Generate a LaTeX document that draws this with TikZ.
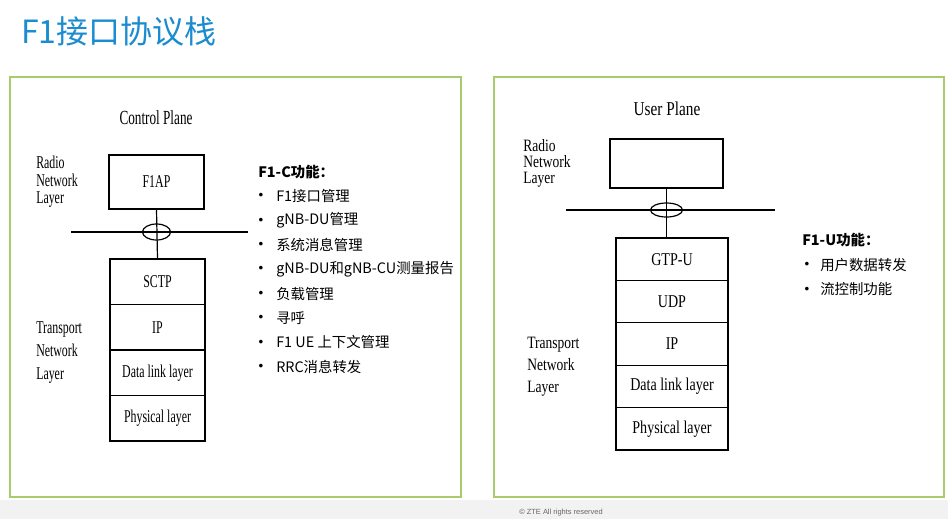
\documentclass[tikz,border=0pt]{standalone}
\usepackage{fontspec}
\setmainfont{Liberation Serif}
\newfontfamily\cjk{Noto Sans CJK SC}
\newfontfamily\cpf[FakeStretch=0.66]{Liberation Serif}
\newfontfamily\upf[FakeStretch=0.78]{Liberation Serif}
\newfontfamily\ftf{Liberation Sans}
\usetikzlibrary{shapes.geometric}
\definecolor{titleblue}{RGB}{28,140,208}
\definecolor{panelgreen}{RGB}{170,202,110}
\tikzset{
  panel/.style={draw=panelgreen, line width=1pt},
  cbox/.style={draw, line width=0.9pt, inner sep=0pt, minimum width=71.25pt, font=\cpf\fontsize{13.5}{14}\selectfont},
  ubox/.style={draw, line width=0.9pt, inner sep=0pt, minimum width=84pt, font=\upf\fontsize{13.5}{14}\selectfont},
  link/.style={line width=0.9pt},
  ring/.style={ellipse, draw, line width=0.9pt, inner sep=0pt},
  sidelbl/.style={anchor=north west, align=left, inner sep=0pt},
  cjktxt/.style={anchor=west, inner sep=0pt, font=\cjk\fontsize{10.8}{12}\selectfont},
  cjkhead/.style={anchor=west, inner sep=0pt, font=\cjk\bfseries\fontsize{10.8}{12}\selectfont},
  dot/.style={anchor=center, inner sep=0pt, font=\ftf\fontsize{10}{12}\selectfont},
}
\begin{document}
\begin{tikzpicture}[x=0.75pt,y=-0.75pt]
\useasboundingbox (0,0) rectangle (948,519);
\fill[white] (0,0) rectangle (948,519);
\fill[black!5] (0,500) rectangle (948,519);

% title
\node[anchor=west, inner sep=0pt, text=titleblue, font=\cjk\fontsize{24}{25}\selectfont] (title) at (21,31) {F1接口协议栈};

% panels
\draw[panel] (10,77) rectangle (461,497);
\draw[panel] (494,77) rectangle (944,497);

% ---------- Control plane ----------
\node[font=\cpf\fontsize{15}{16}\selectfont, inner sep=0pt] (cptitle) at (156,118) {Control Plane};
\node[cbox, minimum height=40.5pt] (f1ap) at (156.5,182) {F1AP};
\node[cbox, minimum height=34.1pt] (sctp) at (157.5,281.75) {SCTP};
\node[cbox, minimum height=34.1pt] (cip) at (157.5,327.25) {IP};
\node[cbox, minimum height=34.1pt] (cdl) at (157.5,372.75) {Data link layer};
\node[cbox, minimum height=34.1pt] (cph) at (157.5,418.25) {Physical layer};
\coordinate (cl) at (71,232);
\coordinate (cr) at (248,232);
\draw[link] (cl) -- (cr);
\draw[link] (f1ap.south) -- (sctp.north);
\node[ring, minimum width=21pt, minimum height=12pt] (cring) at (156.5,232) {};

\node[sidelbl, font=\cpf\fontsize{13.5}{13.2}\selectfont] (crnl) at (36,156) {Radio\\Network\\Layer};
\node[sidelbl, font=\cpf\fontsize{13.5}{17.6}\selectfont] (ctnl) at (36,321) {Transport\\Network\\Layer};

\node[cjkhead] (chead) at (258,172) {F1-C功能：};
\foreach \t [count=\i] in {F1接口管理, gNB-DU管理, 系统消息管理, gNB-DU和gNB-CU测量报告, 负载管理, 寻呼, F1 UE 上下文管理, RRC消息转发}{
  \node[dot] (cd\i) at (261,{196.5+(\i-1)*24.4}) {•};
  \node[cjktxt] (ct\i) at (276,{196+(\i-1)*24.4}) {\t};
}

% ---------- User plane ----------
\node[font=\upf\fontsize{14.7}{16}\selectfont, inner sep=0pt] (uptitle) at (667,109) {User Plane};
\node[ubox, minimum width=84.75pt, minimum height=36.75pt] (urnl) at (666.5,163.5) {};
\node[ubox, minimum height=31.8pt] (gtpu) at (672,259.2) {GTP-U};
\node[ubox, minimum height=31.8pt] (udp) at (672,301.6) {UDP};
\node[ubox, minimum height=31.8pt] (uip) at (672,344) {IP};
\node[ubox, minimum height=31.8pt] (udl) at (672,386.4) {Data link layer};
\node[ubox, minimum height=31.8pt] (uph) at (672,428.8) {Physical layer};
\coordinate (ul) at (566,210);
\coordinate (ur) at (775,210);
\draw[link] (ul) -- (ur);
\draw[link] (urnl.south) -- (urnl.south |- gtpu.north);
\node[ring, minimum width=24pt, minimum height=10.5pt] (uring) at (666.5,210) {};

\node[sidelbl, font=\upf\fontsize{13}{12}\selectfont] (urnlbl) at (523,139) {Radio\\Network\\Layer};
\node[sidelbl, font=\upf\fontsize{13}{16.4}\selectfont] (utnl) at (527,337) {Transport\\Network\\Layer};

\node[cjkhead] (uhead) at (802,240) {F1-U功能：};
\foreach \t [count=\i] in {用户数据转发, 流控制功能}{
  \node[dot] (ud\i) at (807,{265.5+(\i-1)*24.4}) {•};
  \node[cjktxt] (ut\i) at (820,{265+(\i-1)*24.4}) {\t};
}

% footer
\node[font=\ftf\fontsize{5.6}{6}\selectfont, text=black!60, inner sep=0pt] (footer) at (561,513) {© ZTE All rights reserved};
\end{tikzpicture}
\end{document}
